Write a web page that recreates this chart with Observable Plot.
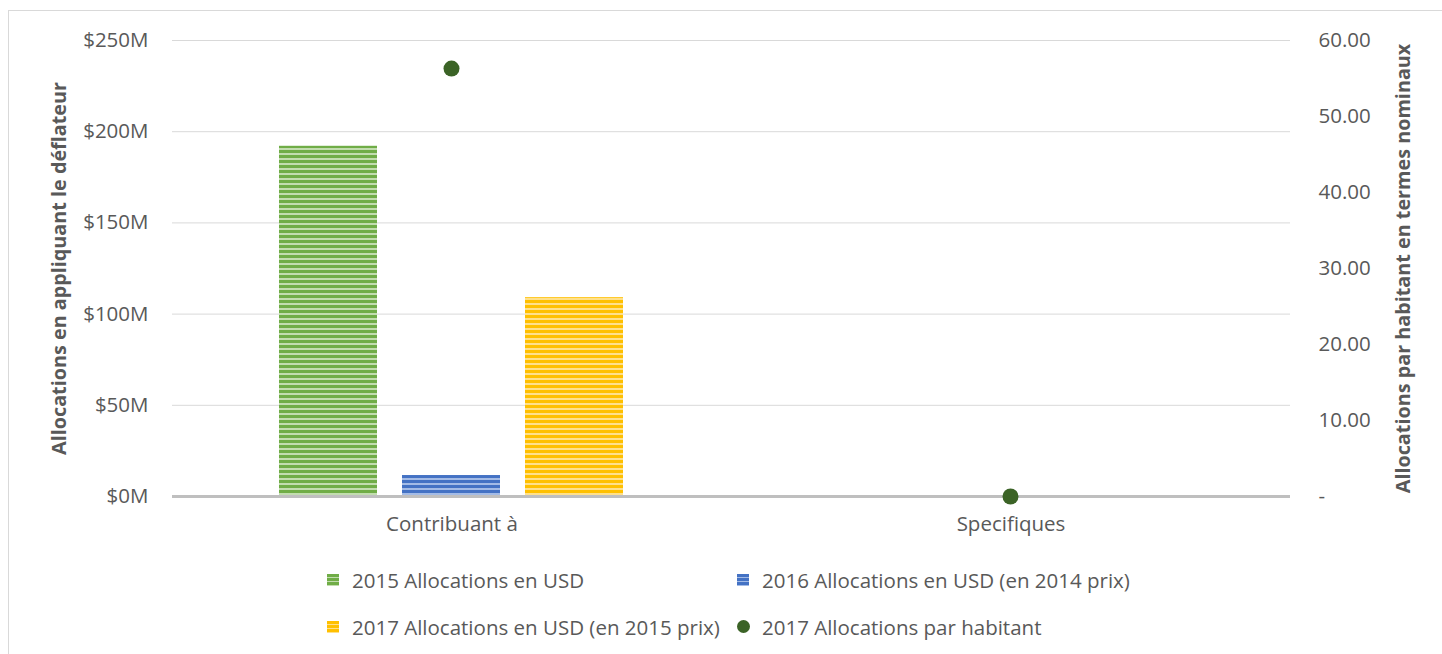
<!DOCTYPE html>
<html>
<head>
<meta charset="utf-8">
<script src="https://cdn.jsdelivr.net/npm/d3@7"></script>
<script src="https://cdn.jsdelivr.net/npm/@observablehq/plot@0.6"></script>
<style>
  html, body { margin: 0; padding: 0; background: #fff; overflow: hidden; }
  body { width: 1442px; height: 654px; position: relative; font-family: "Open Sans", "Noto Sans", sans-serif; }
  #frame { position: absolute; left: 8px; top: 10px; width: 1450px; height: 660px; border: 1px solid #d9d9d9; box-sizing: border-box; }
  #chart { position: absolute; left: 0; top: 0; }
  #legend { position: absolute; left: 327px; top: 556px; width: 830px; display: flex; flex-wrap: wrap; color: #595959; font-size: 20.5px; }
  .item { width: 410px; height: 47px; display: flex; align-items: center; line-height: 28px; white-space: nowrap; }
  .item:nth-child(2n) { width: 420px; }
  .sw { width: 12px; height: 12px; margin-right: 13px; flex: none; }
  .dot { width: 13px; height: 13px; border-radius: 50%; margin-right: 12px; flex: none; }
</style>
</head>
<body>
<div id="frame"></div>
<div id="chart"></div>
<div id="legend"></div>
<script>
// ---- data ----
const categories = ["Contribuant à", "Specifiques"];
const series = [
  "2015 Allocations en USD",
  "2016 Allocations en USD (en 2014 prix)",
  "2017 Allocations en USD (en 2015 prix)"
];
const values2015 = [192, 0];      // $M
const values2016 = [11.5, 0];     // $M
const values2017 = [109, 0];      // $M
const perCapitaLabel = "2017 Allocations par habitant";
const perCapita2017 = [56.3, 0];  // right axis
const leftTicks = [0, 50, 100, 150, 200, 250];
const rightTicks = [0, 10, 20, 30, 40, 50, 60];
const leftTitle = "Allocations en appliquant le déflateur";
const rightTitle = "Allocations par habitant en termes nominaux";

// ---- styling ----
const patterns = [
  {id: "pat0", dark: "#70ad47", light: "#c2ddaf"},
  {id: "pat1", dark: "#4472c4", light: "#a3bbe6"},
  {id: "pat2", dark: "#ffc000", light: "#ffe08a"}
];
const dotColor = "#3b6326";
const textColor = "#595959";
const fs = 20.5;
const k = 250 / 60; // right axis -> left axis units

const seriesValues = [values2015, values2016, values2017];
const bars = [];
series.forEach((s, i) => categories.forEach((c, j) => bars.push({category: c, series: s, value: seriesValues[i][j], idx: i})));
const dots = categories.map((c, j) => ({category: c, value: perCapita2017[j]}));

const plot = Plot.plot({
  width: 1442,
  height: 545,
  marginLeft: 171,
  marginRight: 152,
  marginTop: 40,
  marginBottom: 49,
  style: {fontFamily: "'Open Sans', 'Noto Sans', sans-serif", fontSize: fs + "px", color: textColor, background: "transparent"},
  fx: {domain: categories, padding: 0, label: null},
  x: {domain: series, paddingInner: 0.2016, paddingOuter: 0.855, axis: null},
  y: {domain: [0, 250], axis: null},
  marks: [
    Plot.gridY(leftTicks, {stroke: "#d9d9d9", strokeOpacity: 1, strokeWidth: 1}),
    ...series.map((s, i) => Plot.barY(bars.filter(b => b.idx === i), {
      fx: "category", x: "series", y: "value", fill: `url(#${patterns[i].id})`
    })),
    Plot.ruleY([0], {stroke: "#bfbfbf", strokeWidth: 3}),
    Plot.dot(dots, {fx: "category", x: () => series[1], y: d => d.value * k, r: 8, fill: dotColor, stroke: "none"}),
    Plot.axisY({anchor: "left", ticks: leftTicks, tickSize: 0, tickPadding: 24, tickFormat: d => `$${d}M`, label: null, fontSize: fs, fill: textColor}),
    Plot.axisY({anchor: "right", ticks: rightTicks.map(v => v * k), tickSize: 0, tickPadding: 28, label: null, fontSize: fs, fill: textColor,
      tickFormat: d => { const v = Math.round(d / k); return v === 0 ? "-" : v.toFixed(2); }}),
    Plot.axisFx({anchor: "bottom", tickSize: 0, tickPadding: 20, label: null, fontSize: fs, fill: textColor}),
    Plot.text([leftTitle], {fx: () => categories[0], text: d => d, frameAnchor: "left", textAnchor: "middle", dx: -113, rotate: -90, fontWeight: "bold", fontSize: 19.8, fill: textColor}),
    Plot.text([rightTitle], {fx: () => categories[1], text: d => d, frameAnchor: "right", textAnchor: "middle", dx: 113, rotate: -90, fontWeight: "bold", fontSize: 19.8, fill: textColor})
  ]
});

// pattern defs
const ns = "http://www.w3.org/2000/svg";
const defs = document.createElementNS(ns, "defs");
patterns.forEach(p => {
  const pat = document.createElementNS(ns, "pattern");
  pat.setAttribute("id", p.id);
  pat.setAttribute("patternUnits", "userSpaceOnUse");
  pat.setAttribute("width", 10);
  pat.setAttribute("height", 5);
  const r1 = document.createElementNS(ns, "rect");
  r1.setAttribute("width", 10); r1.setAttribute("height", 5); r1.setAttribute("fill", p.light);
  const r2 = document.createElementNS(ns, "rect");
  r2.setAttribute("width", 10); r2.setAttribute("height", 3); r2.setAttribute("fill", p.dark);
  pat.appendChild(r1); pat.appendChild(r2);
  defs.appendChild(pat);
});
plot.insertBefore(defs, plot.firstChild);
document.getElementById("chart").appendChild(plot);

// legend
const legend = document.getElementById("legend");
const items = [
  {label: series[0], kind: "bar", p: patterns[0]},
  {label: series[1], kind: "bar", p: patterns[1]},
  {label: series[2], kind: "bar", p: patterns[2]},
  {label: perCapitaLabel, kind: "dot"}
];
items.forEach(it => {
  const div = document.createElement("div");
  div.className = "item";
  const sw = document.createElement("span");
  if (it.kind === "bar") {
    sw.className = "sw";
    sw.style.background = `repeating-linear-gradient(to bottom, ${it.p.dark} 0px, ${it.p.dark} 3px, ${it.p.light} 3px, ${it.p.light} 4px)`;
  } else {
    sw.className = "dot";
    sw.style.background = dotColor;
  }
  const t = document.createElement("span");
  t.textContent = it.label;
  div.appendChild(sw); div.appendChild(t);
  legend.appendChild(div);
});
</script>
</body>
</html>
